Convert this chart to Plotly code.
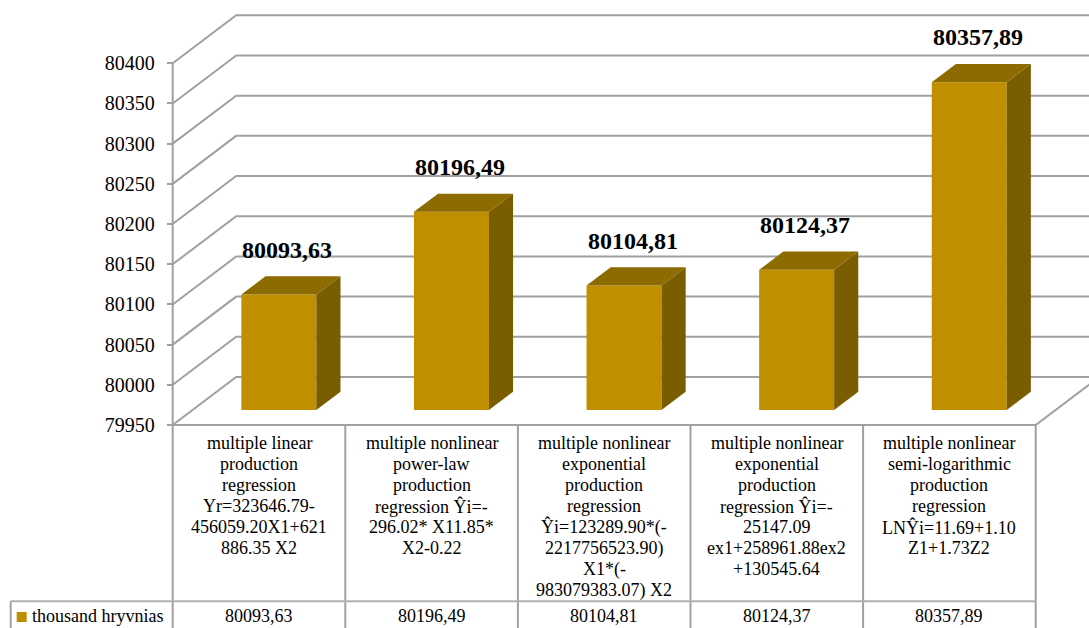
import plotly.graph_objects as go

# ---------------- data ----------------
category_lines = [
    ["multiple linear", "production", "regression", "Yr=323646.79-", "456059.20X1+621", "886.35 X2"],
    ["multiple nonlinear", "power-law", "production", "regression Ŷi=-", "296.02* X11.85*", "X2-0.22"],
    ["multiple nonlinear", "exponential", "production", "regression", "Ŷi=123289.90*(-", "2217756523.90)", "X1*(-", "983079383.07) X2"],
    ["multiple nonlinear", "exponential", "production", "regression Ŷi=-", "25147.09", "ex1+258961.88ex2", "+130545.64"],
    ["multiple nonlinear", "semi-logarithmic", "production", "regression", "LNŶi=11.69+1.10", "Z1+1.73Z2"],
]
values = [80093.63, 80196.49, 80104.81, 80124.37, 80357.89]
value_labels = ["80093,63", "80196,49", "80104,81", "80124,37", "80357,89"]
y_ticks = [79950, 80000, 80050, 80100, 80150, 80200, 80250, 80300, 80350, 80400]
series_name = "thousand hryvnias"

# ---------------- geometry / style ----------------
W, H = 1089, 628
X0_PX, CAT_PX = 172.7, 172.6          # left edge of plot and category width in px
V0, V0_PY, PX_PER_V = 79950, 425, 0.8038
N = len(values)
xr = [(0 - X0_PX) / CAT_PX, (W - X0_PX) / CAT_PX]
yr = [V0 - (H - V0_PY) / PX_PER_V, V0 + V0_PY / PX_PER_V]
DX, DV = 63.5 / CAT_PX, 48 / PX_PER_V  # depth offset of back wall
F0, FD, BW = 0.3125, 0.38, 75 / CAT_PX
VMAX = y_ticks[-1]

FRONT, TOP, SIDE = "#BF8F00", "#8C6B00", "#7A5D00"
GRID = "#A0A0A0"
FONT = "Liberation Serif, Times New Roman, serif"


def px_x(px):
    return (px - X0_PX) / CAT_PX


def py_paper(py):
    return 1 - py / H


fig = go.Figure()

# gridlines / walls
gx, gy = [], []
for v in y_ticks:
    gx += [0, DX, N + DX, None]
    gy += [v, v + DV, v + DV, None]
gx += [0, N, N + DX, None, 0, 0, None]
gy += [V0, V0, V0 + DV, None, V0, VMAX, None]
fig.add_trace(go.Scatter(x=gx, y=gy, mode="lines", line=dict(color=GRID, width=2),
                         hoverinfo="skip", showlegend=False))

# 3D bars
annotations = []
for i, v in enumerate(values):
    fx0 = i + 0.5 + F0 * DX - BW / 2
    fx1 = fx0 + BW
    vb = V0 + F0 * DV
    vt = v + F0 * DV
    ddx, ddv = FD * DX, FD * DV
    faces = [
        ([fx0, fx1, fx1, fx0, fx0], [vb, vb, vt, vt, vb], FRONT),
        ([fx1, fx1 + ddx, fx1 + ddx, fx1, fx1], [vb, vb + ddv, vt + ddv, vt, vb], SIDE),
        ([fx0, fx1, fx1 + ddx, fx0 + ddx, fx0], [vt, vt, vt + ddv, vt + ddv, vt], TOP),
    ]
    for xs, ys, col in faces:
        fig.add_trace(go.Scatter(x=xs, y=ys, mode="lines", fill="toself", fillcolor=col,
                                 line=dict(width=0, color=col), hoverinfo="skip",
                                 showlegend=False))
    annotations.append(dict(x=i + 0.5 + F0 * DX + 0.05, y=vt, xref="x", yref="y",
                            text=f"<b>{value_labels[i]}</b>", showarrow=False,
                            yanchor="middle", yshift=45,
                            font=dict(family=FONT, size=24, color="black")))

# data table
shapes = []
row_py = 601.3
for k in range(N + 1):
    shapes.append(dict(type="line", xref="x", yref="paper", x0=k, x1=k,
                       y0=py_paper(V0_PY), y1=0, line=dict(color=GRID, width=2)))
shapes.append(dict(type="line", xref="x", yref="paper", x0=px_x(10.7), x1=N,
                   y0=py_paper(row_py), y1=py_paper(row_py), line=dict(color="#B0B0B0", width=2)))
shapes.append(dict(type="line", xref="x", yref="paper", x0=px_x(10.7), x1=px_x(10.7),
                   y0=py_paper(row_py), y1=0, line=dict(color=GRID, width=2)))
shapes.append(dict(type="rect", xref="x", yref="paper", x0=px_x(16.7), x1=px_x(26.7),
                   y0=py_paper(622), y1=py_paper(612), fillcolor=FRONT, line=dict(width=0)))

for i, lines in enumerate(category_lines):
    for j, ln in enumerate(lines):
        annotations.append(dict(x=i + 0.5, y=py_paper(443.3 + 21 * j), xref="x", yref="paper",
                                text=ln, showarrow=False, yanchor="middle",
                                font=dict(family=FONT, size=18, color="black")))
    annotations.append(dict(x=i + 0.5, y=py_paper(616), xref="x", yref="paper",
                            text=value_labels[i], showarrow=False, yanchor="middle",
                            font=dict(family=FONT, size=18, color="black")))
annotations.append(dict(x=px_x(29.5), y=py_paper(616), xref="x", yref="paper",
                        text=series_name, showarrow=False, xanchor="left", yanchor="middle",
                        font=dict(family=FONT, size=18, color="black")))

fig.update_layout(
    width=W, height=H, margin=dict(l=0, r=0, t=0, b=0),
    paper_bgcolor="white", plot_bgcolor="white",
    showlegend=False, shapes=shapes, annotations=annotations,
    xaxis=dict(range=xr, visible=False, fixedrange=True),
    yaxis=dict(range=yr, anchor="free", position=X0_PX / W, tickmode="array",
               tickvals=y_ticks, ticktext=[str(t) for t in y_ticks],
               ticks="outside", ticklen=6, tickwidth=2, tickcolor=GRID,
               ticklabelstandoff=8,
               tickfont=dict(family=FONT, size=20, color="black"),
               showgrid=False, zeroline=False, showline=False, fixedrange=True),
)

fig.write_html("out.html")
